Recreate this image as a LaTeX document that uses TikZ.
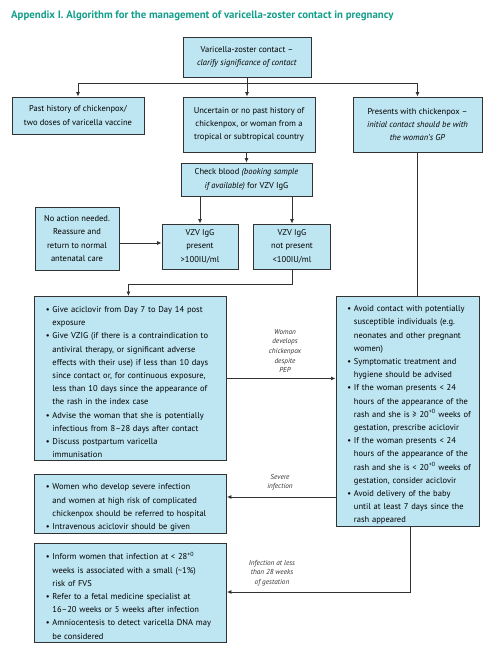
\documentclass[tikz,border=0pt]{standalone}
\usepackage{fontspec}
\setmainfont{PT Sans}
\usetikzlibrary{arrows.meta}
\definecolor{boxfill}{RGB}{190,230,242}
\definecolor{boxline}{RGB}{50,50,50}
\definecolor{titleteal}{RGB}{20,158,140}
\newcommand\bitem[1]{\par\hangindent=6.5bp\hangafter=1\noindent\makebox[6.5bp][l]{\textbullet}#1\par}
\newcommand\nl{\newline}
\newcommand\bodyfont{\fontsize{8.5bp}{13.2bp}\selectfont}
\newcommand\lblfont{\fontsize{7.2bp}{9.6bp}\selectfont\itshape}
\tikzset{
  box/.style={draw=boxline, fill=boxfill, line width=0.9bp, inner sep=0pt,
    align=center, font=\bodyfont},
  listbox/.style={draw=boxline, fill=boxfill, line width=0.9bp, inner xsep=0pt,
    inner ysep=0pt, anchor=north west, font=\bodyfont},
  conn/.style={draw=boxline, line width=0.8bp},
  arr/.style={conn, -{Latex[length=4.5bp,width=4bp]}},
  lbl/.style={font=\lblfont, align=center, inner sep=0pt, text=black!80},
}
\begin{document}
\begin{tikzpicture}[x=1bp,y=-1bp]
\useasboundingbox (0,0) rectangle (490,650);
\node[anchor=base west, inner sep=0pt, text=titleteal, font=\fontsize{10.8bp}{12bp}\selectfont\bfseries] (title) at (11,19)
  {Appendix I. Algorithm for the management of varicella-zoster contact in pregnancy};

\node[box, minimum width=128bp, minimum height=40bp] (top) at (247,57)
  {Varicella-zoster contact --\\ \textit{clarify significance of contact}};
\node[box, minimum width=132bp, minimum height=37bp] (past) at (78,115.5)
  {Past history of chickenpox/\\two doses of varicella vaccine};
\node[box, minimum width=132bp, minimum height=55bp] (unc) at (249,124.5)
  {Uncertain or no past history of\\chickenpox, or woman from a\\tropical or subtropical country};
\node[box, minimum width=129bp, minimum height=55bp] (pres) at (417.5,124.5)
  {Presents with chickenpox --\\\textit{initial contact should be with}\\\textit{the woman's GP}};
\node[box, minimum width=131bp, minimum height=33bp] (check) at (246.5,179.5)
  {Check blood \textit{(booking sample}\\\textit{if available)} for VZV IgG};
\node[box, minimum width=84bp, minimum height=63bp] (noact) at (77,238.5)
  {No action needed.\\Reassure and\\return to normal\\antenatal care};
\node[box, minimum width=76bp, minimum height=45bp] (vzvp) at (200,246.5)
  {VZV IgG\\present\\>100IU/ml};
\node[box, minimum width=77bp, minimum height=45bp] (vzvn) at (292,246.5)
  {VZV IgG\\not present\\<100IU/ml};

\node[listbox, text width=192bp, minimum height=164bp] (pep) at (34,296)
  {\raggedright\leftskip=11.5bp\rightskip=0pt plus 4em
   \bitem{Give aciclovir from Day 7 to Day 14 post\nl exposure}
   \bitem{Give VZIG (if there is a contraindication to\nl antiviral therapy, or significant adverse\nl effects with their use) if less than 10 days\nl since contact or, for continuous exposure,\nl less than 10 days since the appearance of\nl the rash in the index case}
   \bitem{Advise the woman that she is potentially\nl infectious from 8--28 days after contact}
   \bitem{Discuss postpartum varicella\nl immunisation}};

\node[listbox, text width=143bp, minimum height=230bp] (sympt) at (335.5,296)
  {\raggedright\leftskip=11.5bp\rightskip=0pt plus 4em
   \bitem{Avoid contact with potentially\nl susceptible individuals (e.g.\nl neonates and other pregnant\nl women)}
   \bitem{Symptomatic treatment and\nl hygiene should be advised}
   \bitem{If the woman presents < 24\nl hours of the appearance of the\nl rash and she is ≥ 20\textsuperscript{+0} weeks of\nl gestation, prescribe aciclovir}
   \bitem{If the woman presents < 24\nl hours of the appearance of the\nl rash and she is < 20\textsuperscript{+0} weeks of\nl gestation, consider aciclovir}
   \bitem{Avoid delivery of the baby\nl until at least 7 days since the\nl rash appeared}};

\node[listbox, text width=192bp, minimum height=59bp] (severe) at (34,474)
  {\raggedright\leftskip=11.5bp\rightskip=0pt plus 4em
   \bitem{Women who develop severe infection\nl and women at high risk of complicated\nl chickenpox should be referred to hospital}
   \bitem{Intravenous aciclovir should be given}};

\node[listbox, text width=192bp, minimum height=99bp] (fvs) at (34,543)
  {\raggedright\leftskip=11.5bp\rightskip=0pt plus 4em
   \bitem{Inform women that infection at < 28\textsuperscript{+0}\nl weeks is associated with a small (\textasciitilde1\%)\nl risk of FVS}
   \bitem{Refer to a fetal medicine specialist at\nl 16--20 weeks or 5 weeks after infection}
   \bitem{Amniocentesis to detect varicella DNA may\nl be considered}};

% connectors
\coordinate (bus) at (0,83);
\coordinate (na) at (0,243);
\coordinate (vn) at (0,284);
\coordinate (sv) at (0,497);
\coordinate (sx) at (410,0);
\coordinate (fy) at (0,592);

\draw[arr] (top.south) -- (top.south |- bus) -| (past.north);
\draw[arr] (top.south) -- (top.south |- bus) -| (pres.north);
\draw[arr] (top.south) -- (top.south |- unc.north);
\draw[arr] (unc.south -| check.north) -- (check.north);
\draw[arr] (vzvp.north |- check.south) -- (vzvp.north);
\draw[arr] (vzvn.north |- check.south) -- (vzvn.north);
\draw[arr] (noact.east |- na) -- (vzvp.west |- na);
\draw[arr] (vzvn.south) -- (vzvn.south |- vn) -| ([xshift=-2bp]pep.north);
\draw[conn] (pres.south) -- (pres.south |- sympt.north);
\draw[arr] (pep.east) -- (pep.east -| sympt.west);
\draw[arr] (sympt.west |- sv) -- (severe.east |- sv);
\draw[arr] (sympt.south -| sx) -- (sx |- fy) -- (fvs.east |- fy);

\node[lbl] (l1) at (285,351) {Woman\\develops\\chickenpox\\despite\\PEP};
\node[lbl] (l2) at (280,482) {Severe\\infection};
\node[lbl] (l3) at (272,573) {Infection at less\\than 28 weeks\\of gestation};
\end{tikzpicture}
\end{document}
